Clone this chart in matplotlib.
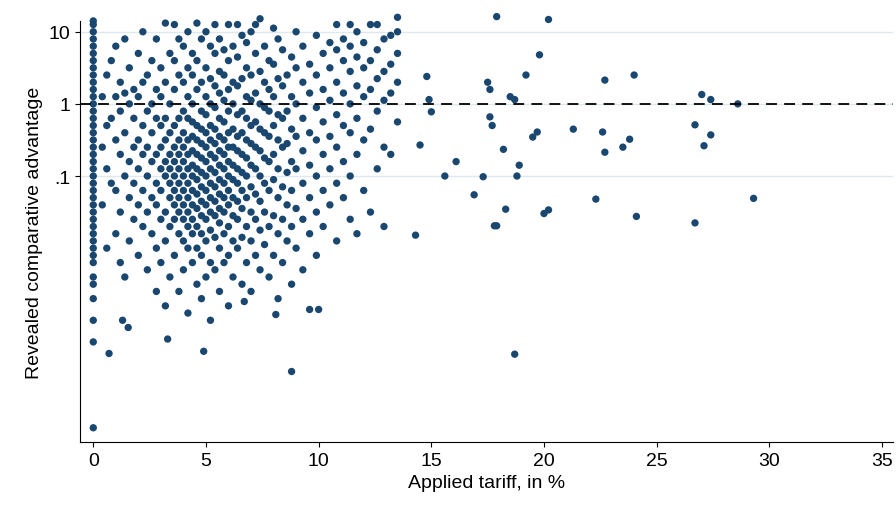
import matplotlib
matplotlib.use("Agg")
import matplotlib.pyplot as plt
import numpy as np

plt.rcParams['font.family'] = ['Liberation Sans', 'DejaVu Sans']

zero_logs = [-4.49,-3.3,-3.0,-2.7,-2.5,-2.4,-2.2,-2.1,-2.0,-1.9,-1.8,-1.7,-1.6,-1.5,-1.4,-1.3,-1.2,-1.1,-1.0,
             -0.9,-0.8,-0.7,-0.6,-0.5,-0.4,-0.3,-0.2,-0.1,0,0.1,0.2,0.3,0.4,0.5,0.6,0.7,0.8,0.9,1.0,1.1,1.15]

cloud = {
0.4:[-1.4,-0.6,0.1], 0.6:[-2.0,-0.9,-0.3,0.4], 0.8:[-1.1,-0.2,0.6],
1.0:[-1.8,-1.2,-0.5,0.1,0.8], 1.2:[-2.2,-1.5,-0.7,-0.1,0.3], 1.4:[-2.4,-1.0,-0.4,0.15,0.9],
1.6:[-1.9,-1.3,-0.8,0.0,0.5], 1.8:[-1.6,-1.1,-0.6,-0.2,0.2], 2.0:[-2.1,-1.4,-0.9,-0.5,0.1,0.7],
2.2:[-1.7,-1.2,-0.7,-0.3,0.3,1.0], 2.4:[-2.3,-1.5,-1.0,-0.6,-0.1,0.4], 2.6:[-1.8,-1.3,-0.8,-0.4,0.0,0.6],
2.8:[-2.6,-2.0,-1.4,-1.1,-0.7,-0.2,0.2,0.9], 3.0:[-2.2,-1.6,-1.2,-0.9,-0.6,-0.3,0.1,0.5],
3.2:[-2.8,-1.9,-1.5,-1.0,-0.8,-0.5,-0.2,0.3,1.12], 3.4:[-2.4,-1.7,-1.3,-1.1,-0.9,-0.7,-0.4,0.0,0.7],
3.6:[-2.1,-1.6,-1.4,-1.2,-1.0,-0.8,-0.6,-0.3,0.2,0.6,1.1],
3.8:[-2.6,-1.8,-1.5,-1.3,-1.1,-0.9,-0.7,-0.5,-0.2,0.4,0.9],
4.0:[-2.3,-1.9,-1.6,-1.4,-1.2,-1.0,-0.8,-0.6,-0.4,-0.1,0.3,0.8],
4.2:[-2.9,-2.0,-1.7,-1.5,-1.3,-1.1,-0.9,-0.7,-0.5,-0.2,0.1,0.5,1.0],
4.4:[-2.2,-1.8,-1.6,-1.4,-1.2,-1.0,-0.85,-0.65,-0.45,-0.25,0.0,0.4,0.7],
4.6:[-2.5,-2.0,-1.7,-1.45,-1.25,-1.05,-0.9,-0.7,-0.5,-0.3,0.2,0.6,1.12],
4.8:[-2.7,-2.1,-1.8,-1.55,-1.35,-1.15,-0.95,-0.75,-0.55,-0.35,-0.1,0.3,0.9],
5.0:[-2.4,-1.9,-1.6,-1.4,-1.2,-1.0,-0.8,-0.6,-0.4,-0.15,0.1,0.5,1.0],
5.2:[-3.0,-2.2,-1.75,-1.5,-1.3,-1.1,-0.9,-0.7,-0.5,-0.3,0.0,0.35,0.8],
5.4:[-2.3,-1.85,-1.55,-1.35,-1.15,-0.95,-0.75,-0.55,-0.35,-0.05,0.25,0.7,1.1],
5.6:[-2.6,-2.0,-1.65,-1.45,-1.25,-1.05,-0.85,-0.65,-0.45,-0.2,0.15,0.45,0.9],
5.8:[-2.2,-1.8,-1.5,-1.3,-1.1,-0.9,-0.7,-0.5,-0.25,0.05,0.4,0.75],
6.0:[-2.8,-2.1,-1.7,-1.4,-1.2,-1.0,-0.8,-0.6,-0.4,-0.1,0.2,0.6,1.1],
6.2:[-2.4,-1.9,-1.55,-1.3,-1.05,-0.85,-0.6,-0.35,0.0,0.3,0.8],
6.4:[-2.0,-1.6,-1.35,-1.1,-0.9,-0.65,-0.45,-0.15,0.25,0.65,1.1],
6.6:[-2.5,-1.85,-1.45,-1.2,-0.95,-0.7,-0.4,-0.1,0.35,0.95],
6.8:[-2.2,-1.7,-1.3,-1.0,-0.75,-0.5,-0.2,0.1,0.5,0.85],
7.0:[-2.6,-1.9,-1.5,-1.15,-0.85,-0.55,-0.3,0.05,0.4,1.0],
7.2:[-2.1,-1.6,-1.25,-0.9,-0.6,-0.25,0.15,0.7,1.1],
7.4:[-2.3,-1.75,-1.35,-1.0,-0.65,-0.35,0.0,0.45,1.18],
7.6:[-1.95,-1.5,-1.1,-0.75,-0.4,-0.05,0.3,0.8],
7.8:[-2.4,-1.7,-1.2,-0.8,-0.45,-0.1,0.2,0.6],
8.0:[-2.1,-1.55,-1.05,-0.7,-0.3,0.1,0.55,1.05],
8.2:[-2.7,-1.8,-1.3,-0.9,-0.5,-0.15,0.35,0.9],
8.4:[-2.2,-1.6,-1.15,-0.6,-0.2,0.25,0.75],
8.6:[-1.9,-1.4,-0.95,-0.55,-0.1,0.4],
8.8:[-2.5,-1.7,-1.2,-0.8,-0.35,0.1,0.65],
9.0:[-2.0,-1.45,-0.9,-0.45,0.0,0.5,1.0],
9.3:[-2.3,-1.6,-1.1,-0.65,-0.2,0.3,0.8],
9.6:[-1.8,-1.3,-0.85,-0.4,0.15,0.55],
9.9:[-2.1,-1.5,-1.0,-0.5,-0.05,0.4,0.95],
10.2:[-1.7,-1.2,-0.7,-0.25,0.2,0.7],
10.5:[-1.4,-0.9,-0.45,0.05,0.5,0.85],
10.8:[-1.9,-1.1,-0.6,-0.15,0.3,0.75,1.1],
11.1:[-1.3,-0.8,-0.3,0.15,0.6,0.9],
11.4:[-1.6,-1.0,-0.4,0.0,0.45,0.8,1.1],
11.7:[-1.8,-0.7,-0.2,0.25,0.65,1.0],
12.0:[-1.2,-0.5,0.1,0.5,0.85],
12.3:[-1.5,-0.35,0.2,0.6,1.1],
12.6:[-0.9,-0.1,0.35,0.75,1.1],
12.9:[-1.7,-0.6,0.05,0.45,0.9],
13.2:[-0.7,0.15,0.55,0.95],
13.5:[-0.25,0.3,0.7,1.0,1.2],
}

out_x = [0.7,4.9,3.3,8.8,18.7,1.3,1.55,9.6,10.0,8.1,6.7,29.3,26.7,24.1,22.3,20.2,20.0,17.9,17.8,18.3,16.9,17.3,
         18.8,16.1,15.6,14.3,14.5,18.2,18.9,19.5,19.7,21.3,22.6,22.7,23.5,23.8,26.7,27.1,27.4,27.0,27.4,28.6,
         22.7,24.0,17.9,20.2,19.8,19.2,17.5,17.6,18.5,18.7,17.6,17.7,14.8,14.9,15.0]
out_logs = [-3.46,-3.43,-3.26,-3.71,-3.47,-3.0,-3.1,-2.85,-2.85,-2.92,-2.74,-1.31,-1.65,-1.56,-1.32,-1.47,-1.52,-1.69,-1.69,
            -1.46,-1.26,-1.01,-1.0,-0.8,-1.0,-1.82,-0.57,-0.63,-0.85,-0.46,-0.39,-0.35,-0.39,-0.67,-0.6,-0.49,-0.29,
            -0.58,-0.43,0.13,0.06,0.0,0.33,0.40,1.21,1.17,0.68,0.40,0.3,0.2,0.1,0.06,-0.18,-0.3,0.38,0.06,-0.11]

xs = [0.0]*len(zero_logs) + [x for x, l in cloud.items() for _ in l] + out_x
ls = zero_logs + [l for _, v in cloud.items() for l in v] + out_logs
ys = 10**np.array(ls)

fig = plt.figure(figsize=(8.96, 5.10), dpi=100)
ax = fig.add_axes([0.089, 0.131, 0.908, 0.826])
for v in [10, 1, 0.1]:
    ax.axhline(v, color="#dde9ec", lw=1, zorder=0)
ax.axhline(1, color="black", lw=1.3, ls=(0, (6, 4)), zorder=3)
ax.scatter(xs, ys, s=28, color="#1a476f", edgecolors="none", zorder=2, clip_on=False)
ax.set_yscale("log")
ax.set_ylim(10**-4.69, 10**1.15)
ax.set_xlim(-0.6, 35.5)
ax.set_yticks([10, 1, 0.1])
ax.set_yticklabels(["10", "1", ".1"])
ax.minorticks_off()
ax.set_xticks([0, 5, 10, 15, 20, 25, 30, 35])
for s in ["top", "right"]:
    ax.spines[s].set_visible(False)
ax.tick_params(labelsize=14)
ax.set_xlabel("Applied tariff, in %", fontsize=14)
ax.set_ylabel("Revealed comparative advantage", fontsize=14)
fig.savefig("out.png")
